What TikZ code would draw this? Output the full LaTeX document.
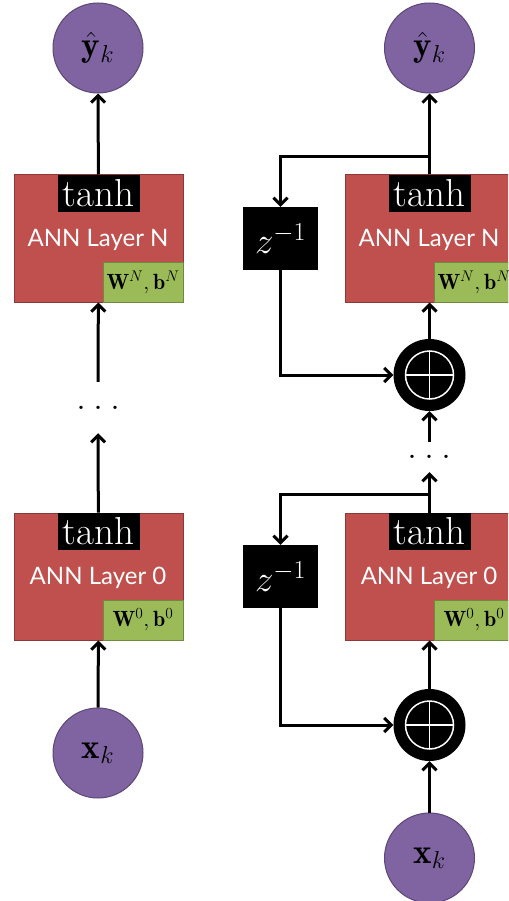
\RequirePackage{fix-cm}
\documentclass[tikz,border=0pt]{standalone}
\usepackage{fontspec}
\newfontfamily\layerfont{Lato}
\usetikzlibrary{arrows.meta}

\definecolor{annred}{HTML}{C0504D}
\definecolor{annredline}{HTML}{8C3836}
\definecolor{wgreen}{HTML}{9BBB59}
\definecolor{wgreenline}{HTML}{71893E}
\definecolor{iopurple}{HTML}{8064A2}
\definecolor{iopurpleline}{HTML}{5C4776}

\tikzset{
  layer/.style={rectangle, fill=annred, draw=annredline, line width=1pt,
    minimum width=169pt, minimum height=127pt, inner sep=0pt},
  layertext/.style={text=white, inner sep=0pt,
    font=\layerfont\fontsize{24}{24}\selectfont},
  act/.style={rectangle, fill=black, text=white, minimum width=82pt,
    minimum height=37pt, inner sep=0pt, font=\fontsize{39}{39}\selectfont},
  wts/.style={rectangle, fill=wgreen, draw=wgreenline, line width=1pt,
    minimum width=80pt, minimum height=40pt, inner sep=0pt,
    font=\fontsize{22}{22}\selectfont},
  io/.style={circle, fill=iopurple, draw=iopurpleline, line width=1pt,
    minimum size=90pt, inner sep=0pt, font=\fontsize{35}{35}\selectfont},
  delay/.style={rectangle, fill=black, text=white, minimum width=75pt,
    minimum height=63pt, inner sep=0pt, font=\fontsize{37}{37}\selectfont},
  sum/.style={circle, fill=black, minimum size=72pt, inner sep=0pt},
  sumcross/.style={draw=white, line width=1.5pt},
  dotsrow/.style={inner sep=0pt, font=\fontsize{40}{40}\selectfont},
  flow/.style={line width=3pt, -{Straight Barb[length=7pt,width=14pt]}}
}

\begin{document}
\begin{tikzpicture}[x=1pt, y=-1pt]
  \clip (0,0) rectangle (508,901);

  % ---------------- feed-forward network (left) ----------------
  \node[io] (yL) at (98,48) {$\hat{\mathbf{y}}_k$};
  \node[layer] (boxNL) at (98.5,238.5) {};
  \node[act, anchor=north] (actNL) at (boxNL.north) {$\tanh$};
  \node[layertext] (txtNL) at (98,240) {ANN Layer N};
  \node[wts, anchor=south east] (wNL) at (boxNL.south east) {$\mathbf{W}^N,\mathbf{b}^N$};

  \node[dotsrow, minimum height=51pt] (dotsL) at (98,407.5) {.\hspace{7pt}.\hspace{7pt}.};

  \node[layer] (box0L) at (98.5,576.5) {};
  \node[act, anchor=north] (act0L) at (box0L.north) {$\tanh$};
  \node[layertext] (txt0L) at (98,578) {ANN Layer 0};
  \node[wts, anchor=south east] (w0L) at (box0L.south east) {$\mathbf{W}^0,\mathbf{b}^0$};

  \node[io] (xL) at (98,753) {$\mathbf{x}_k$};

  \draw[flow] (boxNL) -- (yL);
  \draw[flow] (dotsL) -- (boxNL);
  \draw[flow] (box0L) -- (dotsL);
  \draw[flow] (xL) -- (box0L);

  % ---------------- recurrent network (right) ----------------
  \node[io] (yR) at (429.5,48) {$\hat{\mathbf{y}}_k$};
  \node[layer] (boxNR) at (429.5,238.5) {};
  \node[act, anchor=north] (actNR) at (boxNR.north) {$\tanh$};
  \node[layertext] (txtNR) at (429,240) {ANN Layer N};
  \node[wts, anchor=south east] (wNR) at (boxNR.south east) {$\mathbf{W}^N,\mathbf{b}^N$};
  \node[delay] (zN) at (280.5,238.5) {$z^{-1}$};
  \node[sum] (sN) at (429.5,375) {};

  \node[dotsrow, minimum height=30pt] (dotsR) at (429.5,457) {.\hspace{7pt}.\hspace{7pt}.};

  \node[layer] (box0R) at (429.5,576.5) {};
  \node[act, anchor=north] (act0R) at (box0R.north) {$\tanh$};
  \node[layertext] (txt0R) at (429,578) {ANN Layer 0};
  \node[wts, anchor=south east] (w0R) at (box0R.south east) {$\mathbf{W}^0,\mathbf{b}^0$};
  \node[delay] (z0) at (280.5,576.5) {$z^{-1}$};
  \node[sum] (s0) at (429.5,725) {};

  \node[io] (xR) at (429.5,858) {$\mathbf{x}_k$};

  % circle-plus marks on the summing junctions
  \foreach \s in {sN,s0} {
    \draw[sumcross] (\s.center) circle[radius=24];
    \draw[sumcross] (\s.center) ++(-24,0) -- ++(48,0);
    \draw[sumcross] (\s.center) ++(0,-24) -- ++(0,48);
  }

  % upper layer: output and delayed feedback
  \draw[flow] (boxNR) -- (yR);
  \draw[flow] (boxNR.north) -- ++(0,-18) -| (zN.north);
  \draw[flow] (zN.south) |- (sN.west);
  \draw[flow] (sN) -- (boxNR);
  \draw[flow] (dotsR) -- (sN);

  % lower layer: input and delayed feedback
  \draw[flow] (box0R) -- (dotsR);
  \draw[flow] (box0R.north) -- ++(0,-18) -| (z0.north);
  \draw[flow] (z0.south) |- (s0.west);
  \draw[flow] (s0) -- (box0R);
  \draw[flow] (xR) -- (s0);
\end{tikzpicture}
\end{document}
